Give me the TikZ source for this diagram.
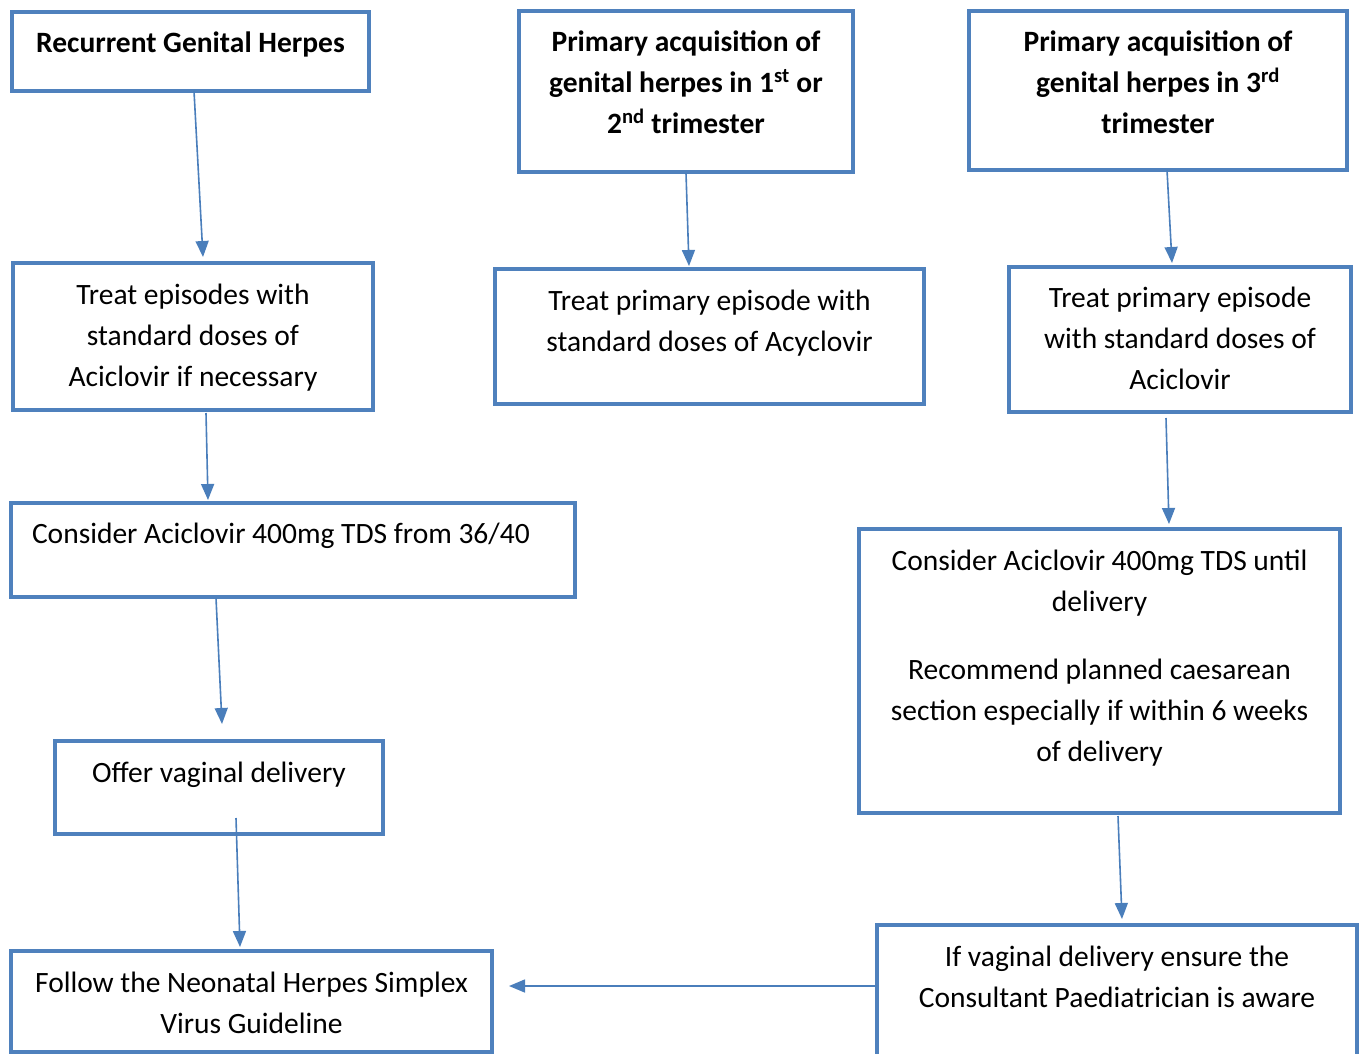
\documentclass[tikz,border=0pt]{standalone}
\usepackage{fontspec}
\setmainfont{Carlito}
\usetikzlibrary{arrows.meta}
\definecolor{boxblue}{HTML}{4F81BD}
\definecolor{arrowblue}{HTML}{4A7EBB}
\newcommand{\boxfont}{\fontsize{29.5}{41}\selectfont}
\newcommand{\natspace}{\spaceskip=\fontdimen2\font\xspaceskip=\fontdimen2\font\relax}
\begin{document}
\begin{tikzpicture}[x=1pt,y=-1pt,
 box/.style={draw=boxblue, line width=4pt, inner sep=0pt, anchor=north west, align=center, font=\boxfont, execute at begin node=\natspace},
 boldbox/.style={box, font=\bfseries\boxfont},
 conn/.style={draw=arrowblue, line width=1.6pt, -{Triangle[length=16pt,width=13pt]}}]
\useasboundingbox (0,0) rectangle (1360,1053);
\node[boldbox, text width=357pt, text height=40pt, text depth=39pt] (rgh) at (10,10) {Recurrent Genital Herpes\hspace*{5pt}};
\node[boldbox, text width=334pt, text height=40pt, text depth=121pt] (p12) at (517,9) {Primary acquisition of\\genital herpes in 1\textsuperscript{st} or\\2\textsuperscript{nd} trimester};
\node[boldbox, text width=378pt, text height=40pt, text depth=119pt] (p3) at (967,9) {Primary acquisition of\\genital herpes in 3\textsuperscript{rd}\\trimester};
\node[box, text width=360pt, text height=41pt, text depth=106pt] (te) at (11,261) {Treat episodes with\\standard doses of\\Aciclovir if necessary};
\node[box, text width=429pt, text height=41pt, text depth=94pt] (tp12) at (493,267) {Treat primary episode with\\standard doses of Acyclovir};
\node[box, text width=342pt, text height=40pt, text depth=105pt] (tp3) at (1007,265) {Treat primary episode\\with standard doses of\\Aciclovir};
\node[box, align=left, text width=564pt, text height=40pt, text depth=54pt] (c36) at (9,501) {\hspace*{21pt}Consider Aciclovir 400mg TDS from 36/40};
\node[box, text width=481pt, text height=41pt, text depth=243pt] (cud) at (857,527) {Consider Aciclovir 400mg TDS until\\delivery\\[27pt]Recommend planned caesarean\\section especially if within 6 weeks\\of delivery};
\node[box, text width=328pt, text height=41pt, text depth=52pt] (ovd) at (53,739) {Offer vaginal delivery};
\node[box, text width=481pt, text height=41pt, text depth=60pt] (fn) at (9,949) {Follow the Neonatal Herpes Simplex\\Virus Guideline};
\node[box, text width=480pt, text height=41pt, text depth=110pt] (iv) at (875,923) {If vaginal delivery ensure the\\Consultant Paediatrician is aware};
% connector end points
\coordinate (a1s) at (194,91);   \coordinate (a1e) at (203,257);
\coordinate (a2s) at (206,413);  \coordinate (a2e) at (208,500);
\coordinate (a3s) at (216,598);  \coordinate (a3e) at (222,724);
\coordinate (a4s) at (236,818);  \coordinate (a4e) at (240,947);
\coordinate (a5s) at (686,173);  \coordinate (a5e) at (689,266);
\coordinate (a6s) at (1167,170); \coordinate (a6e) at (1172,263);
\coordinate (a7s) at (1166,418); \coordinate (a7e) at (1169,524);
\coordinate (a8s) at (1118,816); \coordinate (a8e) at (1122,919);
\coordinate (a9e) at (509,986);
\draw[conn] (a1s) -- (a1e);
\draw[conn] (a2s) -- (a2e);
\draw[conn] (a3s) -- (a3e);
\draw[conn] (a4s) -- (a4e);
\draw[conn] (a5s) -- (a5e);
\draw[conn] (a6s) -- (a6e);
\draw[conn] (a7s) -- (a7e);
\draw[conn] (a8s) -- (a8e);
\draw[conn] (iv.west |- a9e) -- (a9e);
\end{tikzpicture}
\end{document}
